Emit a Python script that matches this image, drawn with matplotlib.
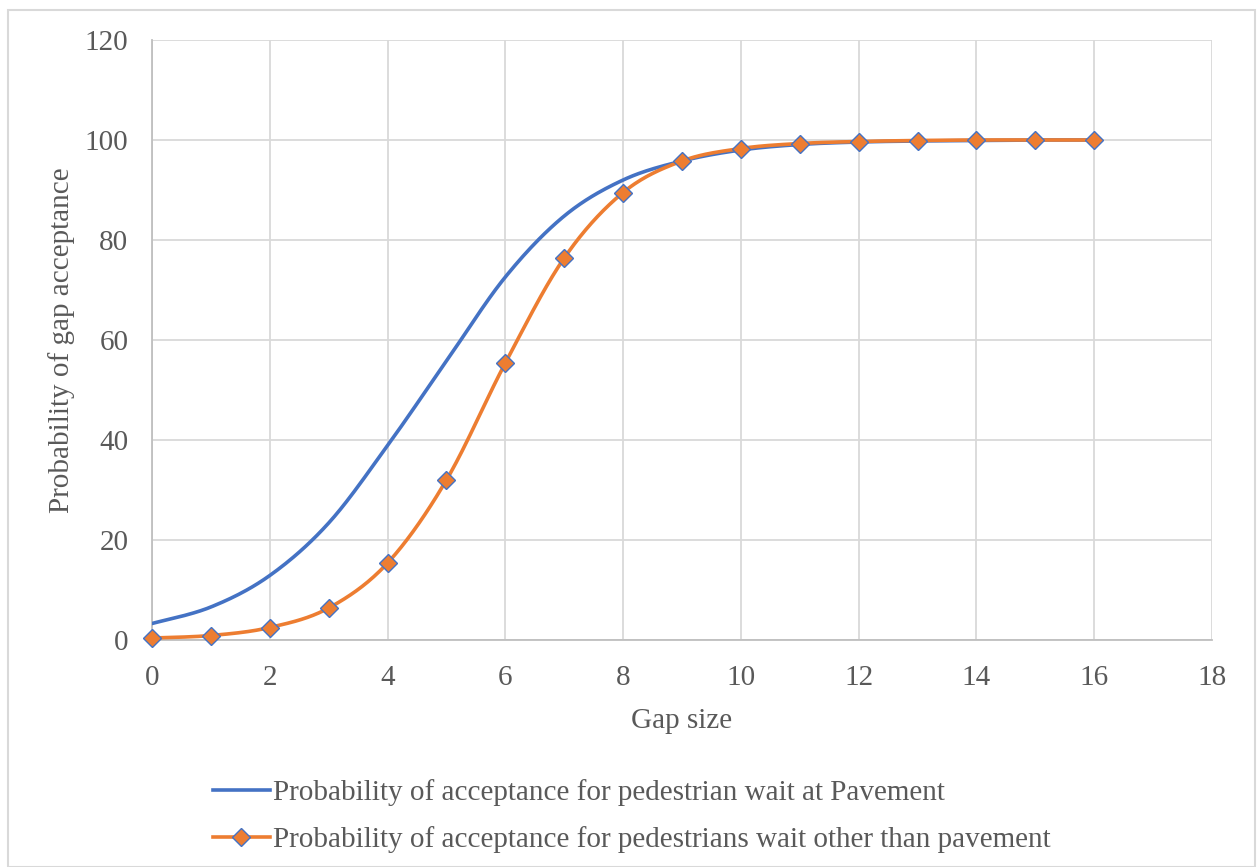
import numpy as np
import matplotlib
matplotlib.use("Agg")
import matplotlib.pyplot as plt
from matplotlib.patches import Rectangle
from matplotlib.lines import Line2D

gap_size = [0, 1, 2, 3, 4, 5, 6, 7, 8, 9, 10, 11, 12, 13, 14, 15, 16]
p_pavement = [3.3, 6.6, 12.9, 23.4, 38.9, 55.8, 72.6, 84.8, 92.0, 95.8, 98.0, 99.1, 99.6, 99.8, 99.9, 100.0, 100.0]
p_other = [0.4, 0.9, 2.5, 6.4, 15.4, 32.0, 55.4, 76.4, 89.5, 95.8, 98.3, 99.3, 99.7, 99.9, 100.0, 100.0, 100.0]

x_ticks = [0, 2, 4, 6, 8, 10, 12, 14, 16, 18]
y_ticks = [0, 20, 40, 60, 80, 100, 120]

label_pavement = "Probability of acceptance for pedestrian wait at Pavement"
label_other = "Probability of acceptance for pedestrians wait other than pavement"

BLUE = "#4472C4"
ORANGE = "#ED7D31"
TEXT = "#595959"
GRID = "#D9D9D9"
AXIS = "#BFBFBF"
FS = 21


def smooth(x, y, n=30):
    """Catmull-Rom style Bezier smoothing through every point."""
    x = np.asarray(x, float)
    y = np.asarray(y, float)
    pts = np.column_stack([x, y])
    ext = np.vstack([pts[0], pts, pts[-1]])
    out = []
    t = np.linspace(0, 1, n, endpoint=False)[:, None]
    for i in range(len(pts) - 1):
        p0, p1, p2, p3 = ext[i], ext[i + 1], ext[i + 2], ext[i + 3]
        c1 = p1 + (p2 - p0) / 6.0
        c2 = p2 - (p3 - p1) / 6.0
        seg = ((1 - t) ** 3) * p1 + 3 * ((1 - t) ** 2) * t * c1 + 3 * (1 - t) * t ** 2 * c2 + t ** 3 * p2
        out.append(seg)
    out.append(pts[-1][None, :])
    out = np.vstack(out)
    return out[:, 0], out[:, 1]


plt.rcParams["font.family"] = ["Liberation Serif", "DejaVu Serif"]

fig = plt.figure(figsize=(12.59, 8.67), dpi=100)
ax = fig.add_axes([152 / 1259, 1 - 640 / 867, 1060 / 1259, 600 / 867])

# chart frame
fig.patches.append(Rectangle((8 / 1259, 0), (1255 - 8) / 1259, 1 - 10 / 867,
                             transform=fig.transFigure, fill=False,
                             edgecolor=GRID, linewidth=1.5, zorder=0))

xs, ys = smooth(gap_size, p_pavement)
ax.plot(xs, ys, color=BLUE, linewidth=2.6, solid_capstyle="round", zorder=3)
xs, ys = smooth(gap_size, p_other)
ax.plot(xs, ys, color=ORANGE, linewidth=2.6, solid_capstyle="round", zorder=4)
ax.plot(gap_size, p_other, linestyle="none", marker="D", markersize=9,
        markerfacecolor=ORANGE, markeredgecolor=BLUE, markeredgewidth=1.0,
        zorder=5, clip_on=False)

ax.set_xlim(0, 18)
ax.set_ylim(0, 120)
ax.set_xticks(x_ticks)
ax.set_yticks(y_ticks)
ax.grid(True, color=GRID, linewidth=1.3)
ax.set_axisbelow(True)
for side in ["top", "right"]:
    ax.spines[side].set_visible(False)
ax.spines["left"].set_color(AXIS)
ax.spines["bottom"].set_color(AXIS)
ax.spines["left"].set_linewidth(1.3)
ax.spines["bottom"].set_linewidth(1.3)
ax.tick_params(axis="both", length=0, labelsize=FS, labelcolor=TEXT)
ax.tick_params(axis="x", pad=18)
ax.tick_params(axis="y", pad=17)

ax.set_xlabel("Gap size", fontsize=FS, color=TEXT, labelpad=12)
ax.set_ylabel("Probability of gap acceptance", fontsize=FS, color=TEXT, labelpad=7)

handles = [
    Line2D([0], [0], color=BLUE, linewidth=2.6),
    Line2D([0], [0], color=ORANGE, linewidth=2.6, marker="D", markersize=9,
           markerfacecolor=ORANGE, markeredgecolor=BLUE),
]
fig.legend(handles, [label_pavement, label_other], loc="upper left",
           bbox_to_anchor=(213 / 1259, 1 - 779 / 867), frameon=False,
           fontsize=FS, labelcolor=TEXT, handlelength=1.95, handletextpad=0.1,
           labelspacing=0.69, borderaxespad=0, borderpad=0)

fig.savefig("out.png", dpi=100)
